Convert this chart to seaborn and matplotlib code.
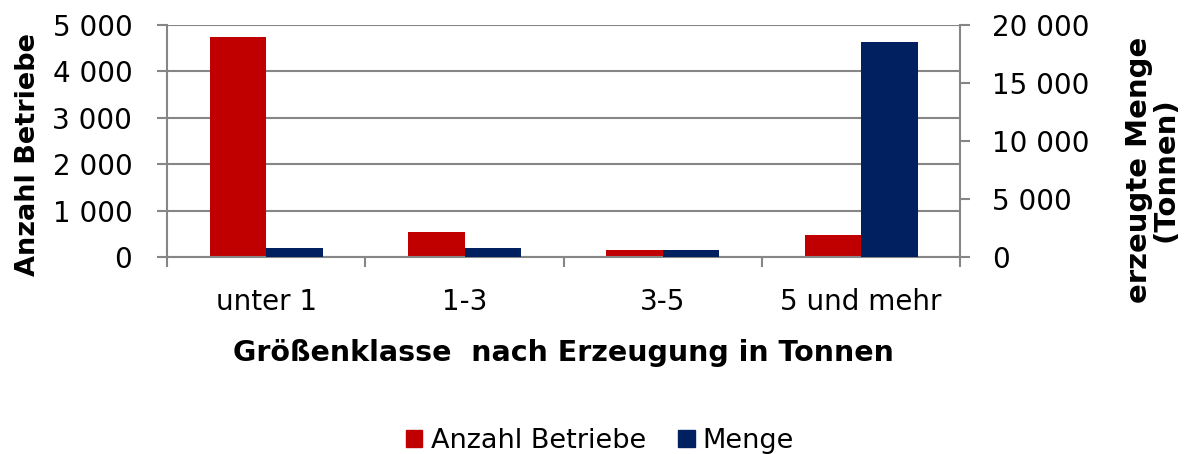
import matplotlib
matplotlib.use('Agg')
import matplotlib.pyplot as plt
from matplotlib.patches import Patch
from matplotlib.ticker import FuncFormatter, FixedLocator
import pandas as pd
import seaborn as sns

klassen = ['unter 1', '1-3', '3-5', '5 und mehr']
betriebe = [4750, 530, 140, 470]
menge = [730, 750, 560, 18560]
reihen = ['Anzahl Betriebe', 'Menge']
farben = ['#C00000', '#002060']

sns.set_style('white')
plt.rcParams['font.family'] = ['DejaVu Sans']
plt.rcParams['text.color'] = 'black'
plt.rcParams['axes.labelcolor'] = 'black'
plt.rcParams['xtick.labelcolor'] = 'black'
plt.rcParams['ytick.labelcolor'] = 'black'

df = pd.DataFrame({'Klasse': klassen * 2,
                   'Reihe': [reihen[0]] * 4 + [reihen[1]] * 4,
                   'Wert': betriebe + menge})
# each axis only shows its own series, the other one is kept at 0 so dodge stays equal
links = df.assign(Wert=df['Wert'].where(df['Reihe'] == reihen[0], 0))
rechts = df.assign(Wert=df['Wert'].where(df['Reihe'] == reihen[1], 0))

grau = '#868686'
fig = plt.figure(figsize=(11.93, 4.54), dpi=100)
ax = fig.add_axes([0.14, 0.434, 0.665, 0.511])
ax2 = ax.twinx()

sns.barplot(data=links, x='Klasse', y='Wert', hue='Reihe', hue_order=reihen,
            palette=farben, width=0.571, saturation=1, linewidth=0,
            legend=False, ax=ax)
sns.barplot(data=rechts, x='Klasse', y='Wert', hue='Reihe', hue_order=reihen,
            palette=farben, width=0.571, saturation=1, linewidth=0,
            legend=False, ax=ax2)

ax.set_xlim(-0.5, 3.5)
ax.set_ylim(0, 5000)
ax2.set_ylim(0, 20000)
ax.set_yticks(range(0, 5001, 1000))
ax2.set_yticks(range(0, 20001, 5000))

fmt = FuncFormatter(lambda v, p: f'{v:,.0f}'.replace(',', ' '))
ax.yaxis.set_major_formatter(fmt)
ax2.yaxis.set_major_formatter(fmt)

ax.set_axisbelow(True)
ax.yaxis.grid(True, color=grau, lw=1.5)
ax.xaxis.grid(False)

for a in (ax, ax2):
    for s in a.spines.values():
        s.set_color(grau)
        s.set_linewidth(1.5)
    a.spines['top'].set_visible(False)
ax.spines['right'].set_visible(False)
ax2.spines['left'].set_visible(False)
ax2.spines['bottom'].set_visible(False)

ax.tick_params(axis='y', left=True, direction='out', length=7, width=1.5,
               color=grau, labelsize=20, pad=18)
ax2.tick_params(axis='y', right=True, direction='out', length=7, width=1.5,
                color=grau, labelsize=20, pad=16)
ax.xaxis.set_minor_locator(FixedLocator([-0.5, 0.5, 1.5, 2.5, 3.5]))
ax.tick_params(axis='x', which='major', bottom=True, length=0, labelsize=20, pad=22)
ax.tick_params(axis='x', which='minor', bottom=True, direction='out', length=7,
               width=1.5, color=grau)

ax.set_xlabel('Größenklasse  nach Erzeugung in Tonnen', fontsize=20.5,
              fontweight='bold', labelpad=17)
ax.set_ylabel('Anzahl Betriebe', fontsize=19.5, fontweight='bold', labelpad=8)
ax.yaxis.label.set_y(0.44)
ax2.set_ylabel('')
fig.text(0.9657, 0.626, 'erzeugte Menge\n(Tonnen)', rotation=90, fontsize=21,
         fontweight='bold', ha='center', va='center', multialignment='center',
         linespacing=0.95)

handles = [Patch(color=c, label=r) for c, r in zip(farben, reihen)]
fig.legend(handles=handles, loc='center', bbox_to_anchor=(0.503, 0.028), ncol=2,
           frameon=False, fontsize=19.5, handlelength=0.6, handleheight=0.6,
           handletextpad=0.3, columnspacing=1.2)

fig.savefig('out.png', dpi=100)
